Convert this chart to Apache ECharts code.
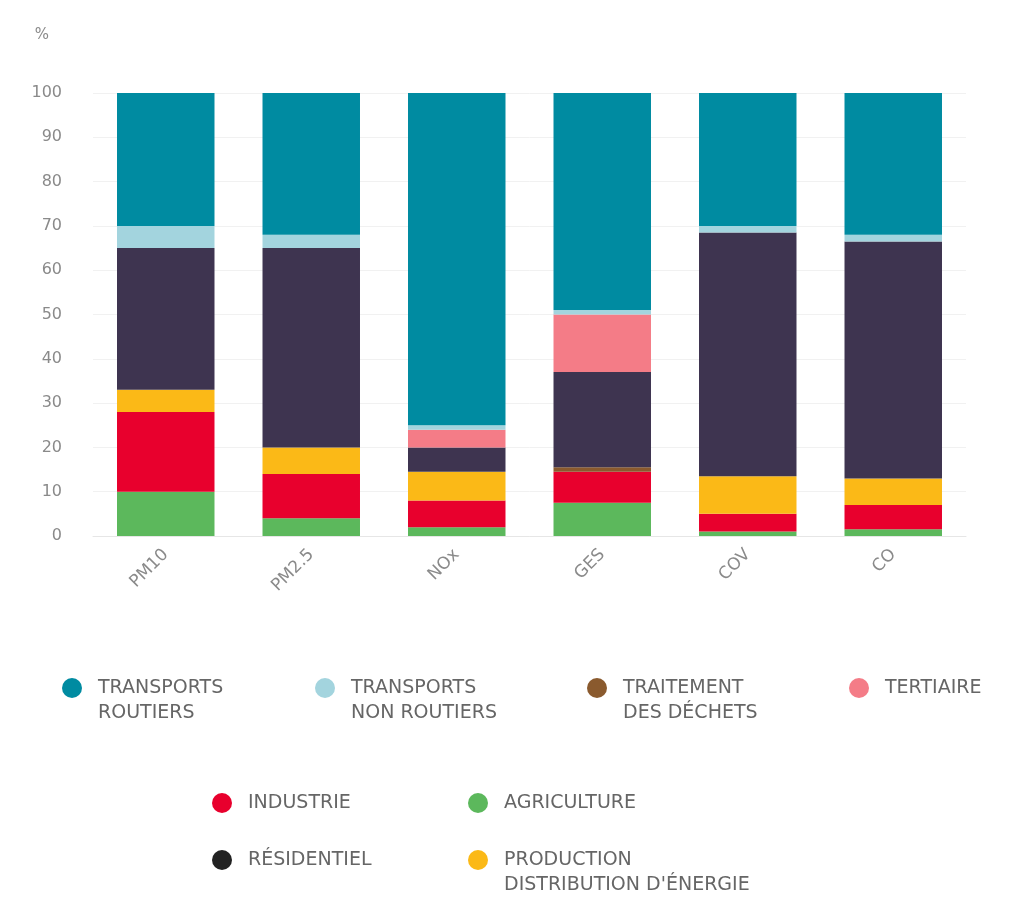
<!DOCTYPE html>
<html>
<head>
<meta charset="utf-8">
<script src="https://cdn.jsdelivr.net/npm/echarts@6/dist/echarts.min.js"></script>
<style>html,body{margin:0;padding:0;background:#fff}#c{width:1012px;height:914px}</style>
</head>
<body>
<div id="c"></div>
<script>
const categories = ['PM10', 'PM2.5', 'NOx', 'GES', 'COV', 'CO'];
const yTicks = [0, 10, 20, 30, 40, 50, 60, 70, 80, 90, 100];
// stacked from bottom to top
const agriculture      = [10, 4, 2, 7.5, 1, 1.5];
const industrie        = [18, 10, 6, 7, 4, 5.5];
const energie          = [5, 6, 6.5, 0, 8.5, 6];
const dechets          = [0, 0, 0, 1, 0, 0];
const residentiel      = [32, 45, 5.5, 21.5, 55, 53.5];
const tertiaire        = [0, 0, 4, 13, 0, 0];
const transportsNonRoutiers = [5, 3, 1, 1, 1.5, 1.5];
const transportsRoutiers    = [30, 32, 75, 49, 30, 32];

const seriesDefs = [
  {name: 'Agriculture', data: agriculture, color: '#5cb85c', label: 'AGRICULTURE'},
  {name: 'Industrie', data: industrie, color: '#e8002d', label: 'INDUSTRIE'},
  {name: 'Energie', data: energie, color: '#fbb917', label: 'PRODUCTION\nDISTRIBUTION D\'ÉNERGIE'},
  {name: 'Dechets', data: dechets, color: '#8a5a2e', label: 'TRAITEMENT\nDES DÉCHETS'},
  {name: 'Residentiel', data: residentiel, color: '#3e3450', label: 'RÉSIDENTIEL'},
  {name: 'Tertiaire', data: tertiaire, color: '#f47c87', label: 'TERTIAIRE'},
  {name: 'TNR', data: transportsNonRoutiers, color: '#a3d4de', label: 'TRANSPORTS\nNON ROUTIERS'},
  {name: 'TR', data: transportsRoutiers, color: '#008ba1', label: 'TRANSPORTS\nROUTIERS'}
];
const labelMap = {};
seriesDefs.forEach(s => labelMap[s.name] = s.label);
const iconColors = {Residentiel: '#222222', Dechets: '#8a5a2e'};

const legendPos = [
  {name: 'TR', left: 62, cy: 688},
  {name: 'TNR', left: 315, cy: 688},
  {name: 'Dechets', left: 587, cy: 688},
  {name: 'Tertiaire', left: 849, cy: 688},
  {name: 'Industrie', left: 212, cy: 803},
  {name: 'Agriculture', left: 468, cy: 803},
  {name: 'Residentiel', left: 212, cy: 860},
  {name: 'Energie', left: 468, cy: 860}
];

const font = '"DejaVu Sans", sans-serif';
const LH = 25;
const legends = legendPos.map(p => {
  const txt = labelMap[p.name];
  const two = txt.indexOf('\n') >= 0;
  return {
    left: p.left, top: two ? p.cy - LH * 1.5 : p.cy - LH / 2,
    padding: 0,
    data: [{name: p.name, itemStyle: iconColors[p.name] ? {color: iconColors[p.name]} : undefined}],
    icon: 'circle', itemWidth: 42, itemHeight: 20,
    selectedMode: false,
    formatter: n => (two ? '\n' : '') + labelMap[n],
    textStyle: {color: '#666666', fontSize: 19, fontFamily: font, lineHeight: LH}
  };
});

const chart = echarts.init(document.getElementById('c'));
chart.setOption({
  animation: false,
  backgroundColor: '#fff',
  grid: {left: 93, right: 46, top: 93, bottom: 378},
  legend: legends,
  xAxis: {
    type: 'category', data: categories,
    axisLine: {lineStyle: {color: '#e6e6e6'}},
    axisTick: {show: false},
    axisLabel: {rotate: 45, color: '#8a8a8a', fontSize: 17, fontFamily: font, margin: 16}
  },
  yAxis: {
    type: 'value', min: 0, max: 100, interval: 10,
    name: '%', nameLocation: 'end', nameGap: 50,
    nameTextStyle: {color: '#8a8a8a', fontSize: 15, fontFamily: font, align: 'right', padding: [0, 44, 0, 0]},
    axisLine: {show: false}, axisTick: {show: false},
    axisLabel: {color: '#8a8a8a', fontSize: 16, fontFamily: font, margin: 31,
      formatter: v => yTicks.includes(v) ? String(v) : ''},
    splitLine: {lineStyle: {color: '#f1f1f1'}}
  },
  series: seriesDefs.map(s => ({
    name: s.name, type: 'bar', stack: 'total', data: s.data,
    barWidth: '67%',
    itemStyle: {color: s.color}
  }))
});
</script>
</body>
</html>
